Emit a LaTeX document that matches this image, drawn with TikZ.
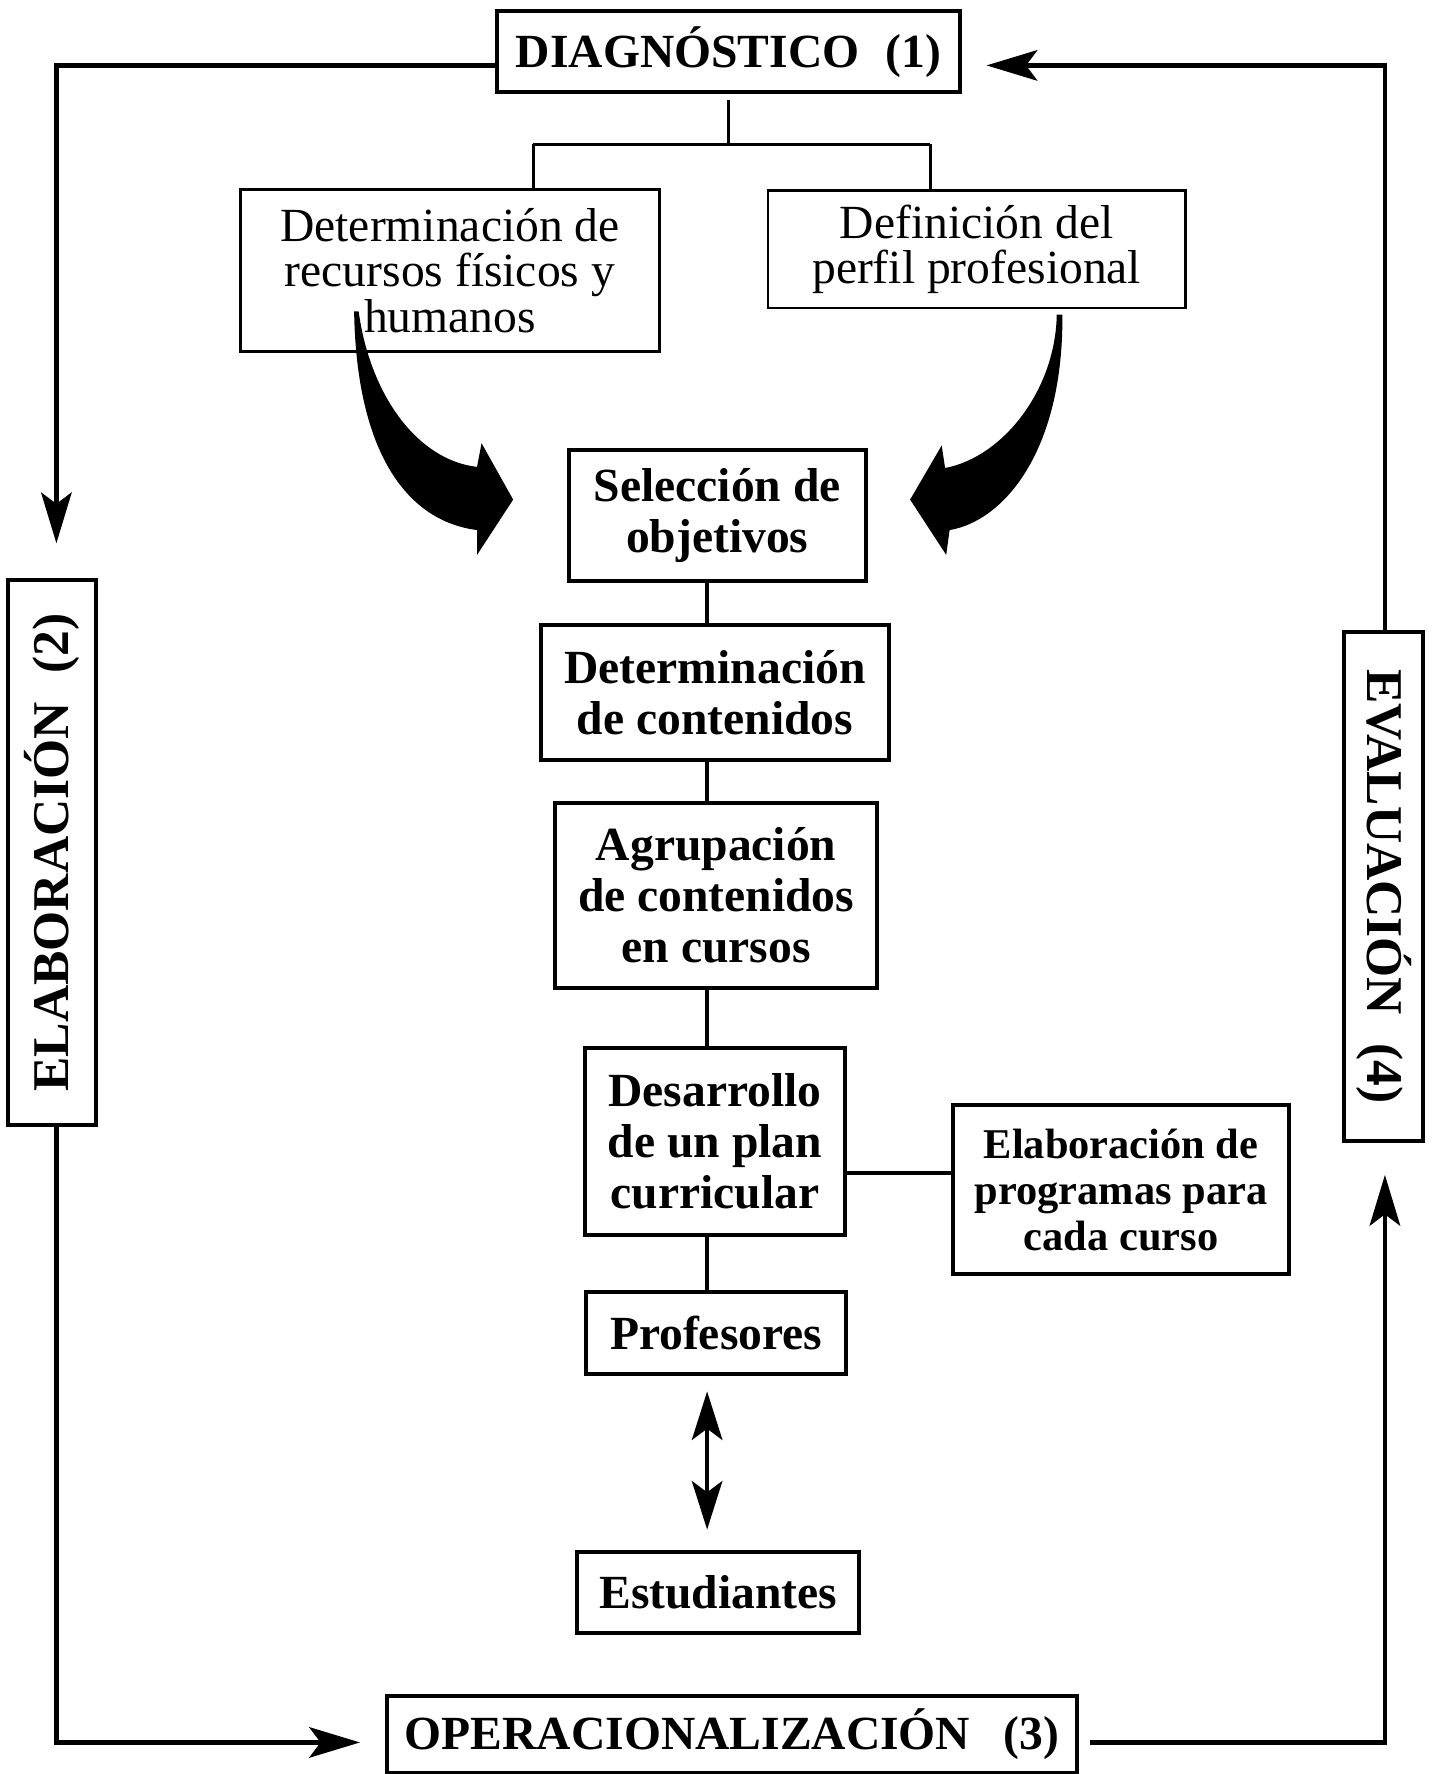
\documentclass[tikz,border=0pt]{standalone}
\usepackage{fontspec}
\setmainfont{Liberation Serif}
\usepackage{graphicx}
\usetikzlibrary{arrows.meta,positioning}

\begin{document}
\begin{tikzpicture}
		[auto,
		block/.style ={rectangle, draw=black, line width=2pt, align=center, inner sep=0pt,
		font=\fontsize{24}{25.6}\selectfont\bfseries},
		topbox/.style ={block, line width=1.4pt, font=\fontsize{24}{22.8}\selectfont},
		small/.style ={block, font=\fontsize{21.4}{23.3}\selectfont\bfseries},
		stage/.style ={block, line width=2pt, font=\fontsize{24}{26}\selectfont\bfseries},
		side/.style ={block, line width=2pt, font=\fontsize{26}{28}\selectfont\bfseries},
		tree/.style ={draw, line width=1.2pt},
		conn/.style ={draw, line width=2.2pt},
		loop/.style ={draw, line width=2.4pt, -{Stealth[length=0.9cm,width=0.54cm,inset=0.2cm]}},
		twoway/.style ={draw, line width=2.2pt, {Stealth[length=0.86cm,width=0.54cm,inset=0.2cm]}-{Stealth[length=0.86cm,width=0.54cm,inset=0.2cm]}},
		]
		\useasboundingbox (0,0) rectangle (25.6,-31.46);

		\draw (12.92,-0.92) node[stage, minimum width=8.2cm, minimum height=1.44cm] (diag) {DIAGN\'OSTICO\hspace{0.3em} (1)};
		\draw (7.98,-4.80) node[topbox, minimum width=7.44cm, minimum height=2.88cm] (recursos) {Determinaci\'on de\\recursos f\'isicos y\\humanos};
		\draw (17.32,-4.42) node[topbox, minimum width=7.4cm, minimum height=2.08cm] (perfil) {Definici\'on del\\perfil profesional};

		\draw (12.72,-9.14) node[block, minimum width=5.26cm, minimum height=2.32cm] (sel) {Selecci\'on de\\objetivos};
		\draw (12.68,-12.28) node[block, minimum width=6.16cm, minimum height=2.4cm] (cont) {Determinaci\'on\\de contenidos};
		\draw (12.70,-15.88) node[block, minimum width=5.7cm, minimum height=3.28cm] (agr) {Agrupaci\'on\\de contenidos\\en cursos};
		\draw (12.68,-20.24) node[block, minimum width=4.6cm, minimum height=3.32cm] (des) {Desarrollo\\de un plan\\curricular};
		\draw (19.88,-21.10) node[small, minimum width=5.96cm, minimum height=3.0cm] (elab) {Elaboraci\'on de\\programas para\\cada curso};
		\draw (12.70,-23.64) node[block, minimum width=4.6cm, minimum height=1.44cm] (prof) {Profesores};
		\draw (12.74,-28.24) node[block, minimum width=5.0cm, minimum height=1.44cm] (est) {Estudiantes};

		\draw (12.98,-30.76) node[stage, minimum width=12.24cm, minimum height=1.36cm] (oper) {OPERACIONALIZACI\'ON\hspace{0.45em} (3)};
		\draw (0.92,-15.12) node[side, minimum width=1.56cm, minimum height=9.66cm] (elabv) {\rotatebox{90}{ELABORACI\'ON\hspace{0.3em} (2)}};
		\draw (24.54,-15.72) node[side, minimum width=1.4cm, minimum height=9.04cm] (evalv) {\rotatebox{-90}{EVALUACI\'ON\hspace{0.3em} (4)}};

		% helper coordinates
		\coordinate (split) at (12.96,-2.56);
		\coordinate (tl) at (9.46,-2.56);
		\coordinate (tr) at (16.5,-2.56);
		\coordinate (spine) at (12.54,0);
		\coordinate (jy) at (0,-20.8);
		\coordinate (lcol) at (1.0,0);
		\coordinate (rcol) at (24.56,0);
		\coordinate (topy) at (0,-1.16);
		\coordinate (boty) at (0,-30.9);

		% diagnostico branches
		\path[tree]
		([yshift=-0.1cm]diag.south) -- (diag.south |- split)
		(tl) -- (tr)
		(tl) -- (tl |- recursos.north)
		(tr) -- (tr |- perfil.north);

		% big curved arrows
		\fill (6.28,-5.52) .. controls (6.32,-8.0) and (7.2,-9.24) .. (8.46,-9.4)
		-- (8.46,-9.84) -- (9.1,-8.86) -- (8.54,-7.86) -- (8.46,-8.28)
		.. controls (7.4,-8.16) and (6.56,-7.0) .. (6.36,-5.52) -- cycle;
		\fill (18.84,-5.58) .. controls (18.86,-8.0) and (17.8,-9.24) .. (16.84,-9.4)
		-- (16.78,-9.84) -- (16.14,-8.86) -- (16.7,-7.9) -- (16.76,-8.3)
		.. controls (17.8,-8.1) and (18.72,-6.9) .. (18.74,-5.58) -- cycle;

		% central column
		\path[conn]
		(sel.south -| spine) -- (cont.north -| spine)
		(cont.south -| spine) -- (agr.north -| spine)
		(agr.south -| spine) -- (des.north -| spine)
		(des.south -| spine) -- (prof.north -| spine)
		(des.east |- jy) -- (elab.west |- jy);
		\path[twoway] ([yshift=-0.28cm]prof.south -| spine) -- ([yshift=0.36cm]est.north -| spine);

		% outer cycle
		\path[loop] (diag.west |- topy) -- (lcol |- topy) -- ([yshift=0.62cm]elabv.north -| lcol);
		\path[loop] (elabv.south -| lcol) -- (lcol |- boty) -- ([xshift=-0.44cm]oper.west |- boty);
		\path[loop] ([xshift=0.2cm]oper.east |- boty) -- (rcol |- boty) -- ([yshift=-0.56cm]evalv.south -| rcol);
		\path[loop] (evalv.north -| rcol) -- (rcol |- topy) -- ([xshift=0.44cm]diag.east |- topy);
	\end{tikzpicture}
\end{document}
